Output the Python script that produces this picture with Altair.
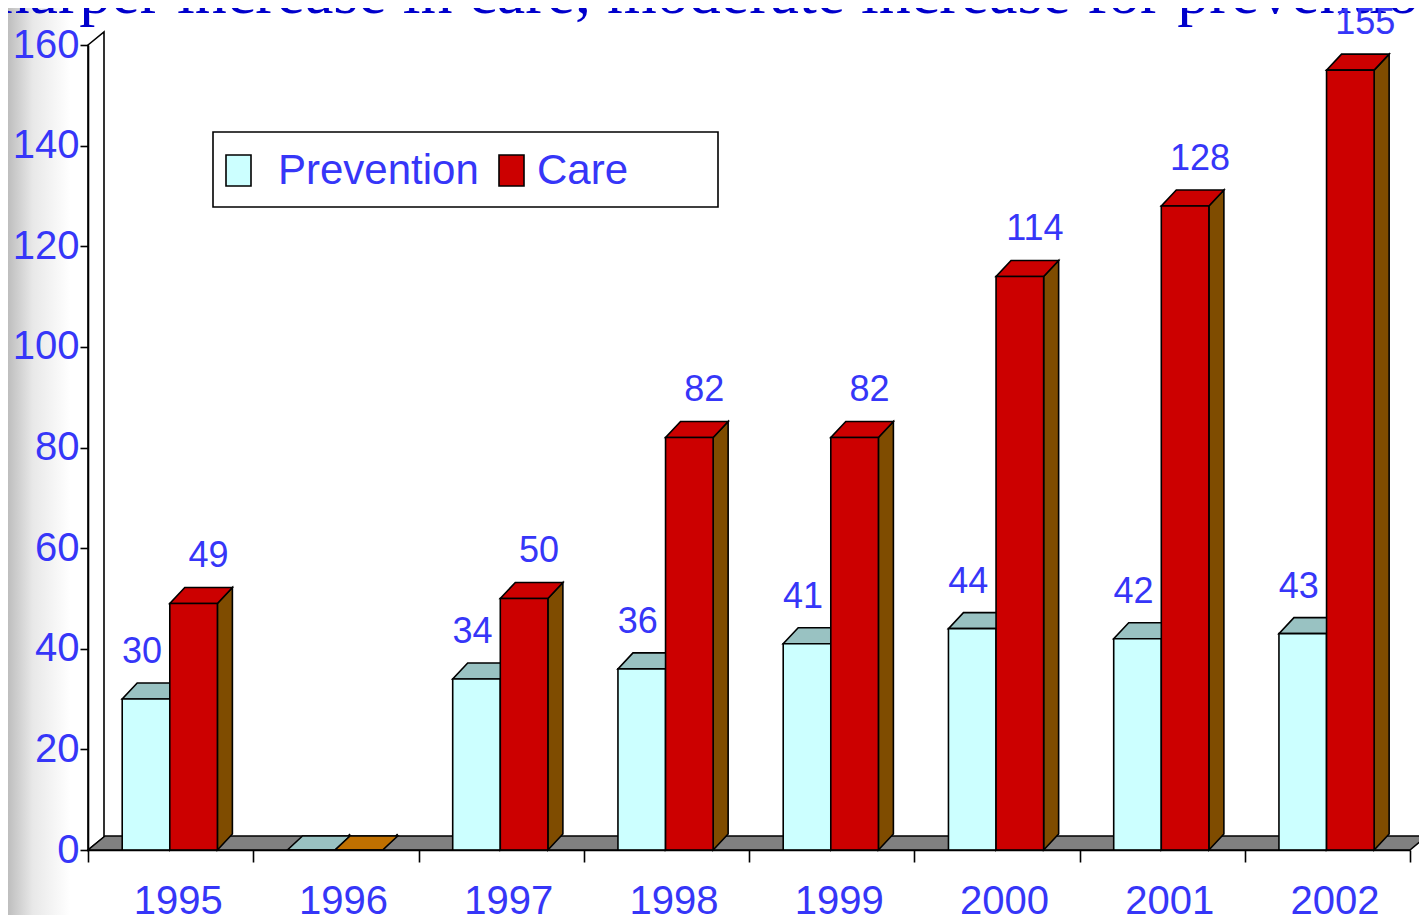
import altair as alt
import pandas as pd

# ---------------- data ----------------
TITLE = "Sharper increase in care, moderate increase for prevention"
years = ["1995", "1996", "1997", "1998", "1999", "2000", "2001", "2002"]
series = ["Prevention", "Care"]
prevention = [30, 0, 34, 36, 41, 44, 42, 43]
care = [49, 0, 50, 82, 82, 114, 128, 155]
y_ticks = [0, 20, 40, 60, 80, 100, 120, 140, 160]

# ---------------- style ----------------
PLOT_W, PLOT_H = 1322, 805
Y_MAX = 160
N = len(years)
PXX = N / PLOT_W          # data units per pixel (x)
PXY = Y_MAX / PLOT_H      # data units per pixel (y)
BAR_DX, BAR_DY = 15 * PXX, 16 * PXY
FLOOR_DX, FLOOR_DY = 17 * PXX, 14 * PXY
WALL_DX, WALL_DY = 16 * PXX, 13 * PXY
BAR_W = 0.288
START = {"Prevention": 0.207, "Care": 0.495}
FRONT = {"Prevention": "#CCFFFF", "Care": "#CC0000"}
TOP = {"Prevention": "#99C2C2", "Care": "#CC0000"}
TOP_ZERO = {"Prevention": "#99C2C2", "Care": "#C07000"}
SIDE = {"Prevention": "#669999", "Care": "#7F4C00"}
LABEL_BLUE = "#3636F8"
TITLE_BLUE = "#0000CC"
SANS = "Liberation Sans"
STROKE_W = 1.6

values = {"Prevention": prevention, "Care": care}

front_rows, side_rows, top_rows, label_rows = [], [], [], []
for s in series:
    for i, yr in enumerate(years):
        v = values[s][i]
        x0 = i + START[s]
        x1 = x0 + BAR_W
        bid = f"{s}-{yr}"
        front_rows.append({"id": bid, "series": s, "x0": x0, "x1": x1, "y0": 0, "v": v})
        side_rows += [
            {"id": bid, "fill": SIDE[s], "x": x1, "y": v, "y2": 0},
            {"id": bid, "fill": SIDE[s], "x": x1 + BAR_DX, "y": v + BAR_DY, "y2": BAR_DY},
        ]
        tc = TOP[s] if v > 0 else TOP_ZERO[s]
        dy = BAR_DY if v > 0 else FLOOR_DY
        top_rows += [
            {"id": bid, "fill": tc, "y": v, "x": x0, "x2": x1},
            {"id": bid, "fill": tc, "y": v + dy, "x": x0 + BAR_DX, "x2": x1 + BAR_DX},
        ]
        if v > 0:
            label_rows.append({"series": s, "xc": (x0 + x1) / 2, "v": v, "txt": str(v)})

front_df = pd.DataFrame(front_rows)
side_df = pd.DataFrame(side_rows)
top_df = pd.DataFrame(top_rows)
label_df = pd.DataFrame(label_rows)

floor_df = pd.DataFrame([
    {"y": 0, "x": 0, "x2": N},
    {"y": FLOOR_DY, "x": FLOOR_DX, "x2": N + FLOOR_DX},
])
wall_df = pd.DataFrame([
    {"x": 0, "y": Y_MAX, "y2": 0},
    {"x": WALL_DX, "y": Y_MAX + WALL_DY, "y2": WALL_DY},
])

xscale = alt.Scale(domain=[0, N], nice=False, zero=False)
yscale = alt.Scale(domain=[0, Y_MAX], nice=False, zero=False)

year_js = "[" + ",".join(f"'{y}'" for y in years) + "]"
x_axis = alt.Axis(
    values=[k / 2 for k in range(2 * N + 1)],
    labelExpr=f"datum.value % 1 == 0 ? '' : {year_js}[floor(datum.value)]",
    tickOpacity={"condition": {"test": "datum.value % 1 != 0", "value": 0}, "value": 1},
    tickSize=12, tickColor="black", tickWidth=STROKE_W,
    domainColor="black", domainWidth=STROKE_W,
    labelFont=SANS, labelFontSize=40, labelColor=LABEL_BLUE,
    labelPadding=19, labelOffset=7, labelFlush=False, labelOverlap=False,
    grid=False, title=None, zindex=1,
)
y_axis = alt.Axis(
    values=y_ticks, tickSize=8, tickColor="black", tickWidth=STROKE_W,
    domainColor="black", domainWidth=STROKE_W,
    labelFont=SANS, labelFontSize=40, labelColor=LABEL_BLUE,
    labelPadding=1, labelFlush=False, labelOverlap=False,
    grid=False, title=None, zindex=1,
)


def X(field, **kw):
    return alt.X(field, scale=xscale, axis=x_axis, **kw)


def Y(field, **kw):
    return alt.Y(field, scale=yscale, axis=y_axis, **kw)


# background gradient strip on the left
grad = alt.Gradient(
    gradient="linear",
    stops=[alt.GradientStop(color="#BEBEBE", offset=0),
           alt.GradientStop(color="#E8E8E8", offset=0.4),
           alt.GradientStop(color="#FFFFFF", offset=1)],
    x1=0, x2=1, y1=0, y2=0,
)
bg = alt.Chart(pd.DataFrame({"a": [0]})).mark_rect(fill=grad).encode(
    x=alt.value(-80), x2=alt.value(-18), y=alt.value(-37), y2=alt.value(870)
)

title = alt.Chart(pd.DataFrame({"t": [TITLE]})).mark_text(
    font="Liberation Serif", fontSize=64, color=TITLE_BLUE, align="left", baseline="alphabetic"
).encode(text="t:N", x=alt.value(-126), y=alt.value(-32))

wall = alt.Chart(wall_df).mark_area(
    orient="vertical", fill="white", stroke="black", strokeWidth=STROKE_W
).encode(x=X("x:Q"), y=Y("y:Q", stack=None), y2="y2:Q")

floor = alt.Chart(floor_df).mark_area(
    orient="horizontal", fill="#808080", stroke="black", strokeWidth=STROKE_W
).encode(y=Y("y:Q"), x=X("x:Q", stack=None), x2="x2:Q")


def bar_layers(s):
    fr = front_df[front_df.series == s]
    sd = side_df[side_df.id.str.startswith(s + "-")]
    tp = top_df[top_df.id.str.startswith(s + "-")]
    side = alt.Chart(sd).mark_area(
        orient="vertical", stroke="black", strokeWidth=STROKE_W, strokeJoin="miter"
    ).encode(
        x=X("x:Q"), y=Y("y:Q", stack=None), y2="y2:Q",
        fill=alt.Fill("fill:N", scale=None), detail="id:N",
    )
    top = alt.Chart(tp).mark_area(
        orient="horizontal", stroke="black", strokeWidth=STROKE_W, strokeJoin="miter"
    ).encode(
        y=Y("y:Q"), x=X("x:Q", stack=None), x2="x2:Q",
        fill=alt.Fill("fill:N", scale=None), detail="id:N",
    )
    front = alt.Chart(fr).mark_rect(stroke="black", strokeWidth=STROKE_W).encode(
        x=X("x0:Q"), x2="x1:Q", y=Y("y0:Q"), y2="v:Q",
        color=alt.Color("series:N",
                        scale=alt.Scale(domain=series, range=[FRONT[k] for k in series]),
                        legend=None),
    )
    return [side, top, front]


LABEL_DX = {"Prevention": -4, "Care": 15}
labels = []
for s in series:
    labels.append(
        alt.Chart(label_df[label_df.series == s]).mark_text(
            font=SANS, fontSize=36, color=LABEL_BLUE, baseline="middle",
            dx=LABEL_DX[s], dy=-47,
        ).encode(x=X("xc:Q"), y=Y("v:Q"), text="txt:N")
    )

# manual legend box
leg_box = alt.Chart(pd.DataFrame({"a": [0]})).mark_rect(
    fill="white", stroke="black", strokeWidth=STROKE_W
).encode(x=alt.value(125), x2=alt.value(630), y=alt.value(87), y2=alt.value(162))
leg_items = []
sw_x = {"Prevention": 138, "Care": 411}
tx_x = {"Prevention": 190, "Care": 449}
for s in series:
    leg_items.append(
        alt.Chart(pd.DataFrame({"s": [s]})).mark_rect(
            fill=FRONT[s], stroke="black", strokeWidth=STROKE_W
        ).encode(x=alt.value(sw_x[s]), x2=alt.value(sw_x[s] + 25),
                 y=alt.value(110), y2=alt.value(141))
    )
    leg_items.append(
        alt.Chart(pd.DataFrame({"s": [s]})).mark_text(
            font=SANS, fontSize=42, color=LABEL_BLUE, align="left", baseline="middle"
        ).encode(text="s:N", x=alt.value(tx_x[s]), y=alt.value(126))
    )

layers = [bg, title, wall, floor] + bar_layers("Prevention") + bar_layers("Care") + labels + [leg_box] + leg_items

chart = alt.layer(*layers).properties(
    width=PLOT_W, height=PLOT_H,
    padding={"left": 80, "top": 37, "right": 9, "bottom": 65},
    autosize=alt.AutoSizeParams(type="none"),
).configure_view(stroke=None)

chart.save("out.html", embed_options={"renderer": "svg", "actions": False})
